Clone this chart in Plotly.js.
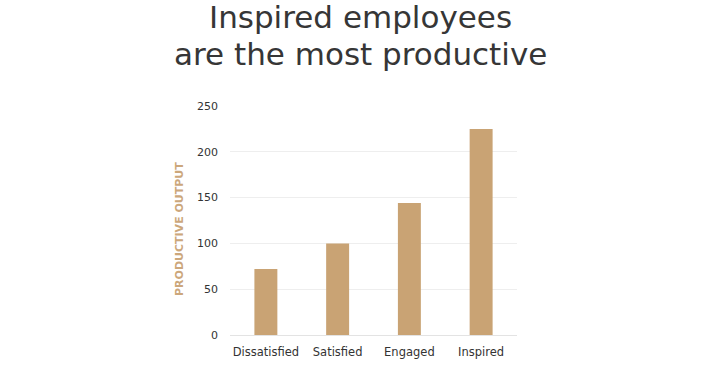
<!DOCTYPE html>
<html>
<head>
<meta charset="utf-8">
<script src="https://cdn.plot.ly/plotly-3.0.1.min.js"></script>
<style>html,body{margin:0;padding:0;background:#fff;}#chart{width:720px;height:377px;}</style>
</head>
<body>
<div id="chart"></div>
<script>
const categories = ["Dissatisfied", "Satisfied", "Engaged", "Inspired"];
const productiveOutput = [72, 100, 144, 225];
const yTickValues = [0, 50, 100, 150, 200, 250];
const titleLines = ["Inspired employees", "are the most productive"];
const yAxisTitle = "PRODUCTIVE OUTPUT";

const FONT = "DejaVu Sans, sans-serif";
const TAN = "#c9a374";

const trace = {
  type: "bar",
  x: categories,
  y: productiveOutput,
  marker: { color: TAN },
  hoverinfo: "x+y"
};

const plotLeft = 230, plotRight = 517, plotTop = 106, plotBottom = 335;
function paperY(px) { return (plotBottom - px) / (plotBottom - plotTop); }
function paperX(px) { return (px - plotLeft) / (plotRight - plotLeft); }

const layout = {
  width: 720,
  height: 377,
  margin: { l: plotLeft, r: 720 - plotRight, t: plotTop, b: 377 - plotBottom },
  paper_bgcolor: "#ffffff",
  plot_bgcolor: "#ffffff",
  bargap: 0.68,
  showlegend: false,
  font: { family: FONT, color: "#333333" },
  annotations: [
    {
      text: titleLines[0], xref: "paper", yref: "paper", x: paperX(360), y: paperY(36.5),
      xanchor: "center", yanchor: "bottom", showarrow: false, borderpad: 0,
      font: { family: FONT, size: 31, color: "#363636" }
    },
    {
      text: titleLines[1], xref: "paper", yref: "paper", x: paperX(360), y: paperY(72.5),
      xanchor: "center", yanchor: "bottom", showarrow: false, borderpad: 0,
      font: { family: FONT, size: 31, color: "#363636" }
    },
    {
      text: "<b>" + yAxisTitle + "</b>", xref: "paper", yref: "paper",
      x: paperX(179), y: paperY(229), xanchor: "center", yanchor: "middle",
      textangle: -90, showarrow: false, borderpad: 0,
      font: { family: FONT, size: 11, color: "#cca77b" }
    }
  ],
  xaxis: {
    type: "category",
    tickfont: { size: 11.5, color: "#333333" },
    showgrid: false,
    showline: false,
    ticks: "",
    ticklabelstandoff: 8
  },
  yaxis: {
    range: [0, 250],
    tickvals: yTickValues,
    tickfont: { size: 11, color: "#333333" },
    showgrid: true,
    gridcolor: "#eeeeee",
    zeroline: true,
    zerolinecolor: "#e3e3e3",
    ticks: "",
    ticklabelstandoff: 11
  }
};

Plotly.newPlot("chart", [trace], layout, { displayModeBar: false, staticPlot: true });
</script>
</body>
</html>
